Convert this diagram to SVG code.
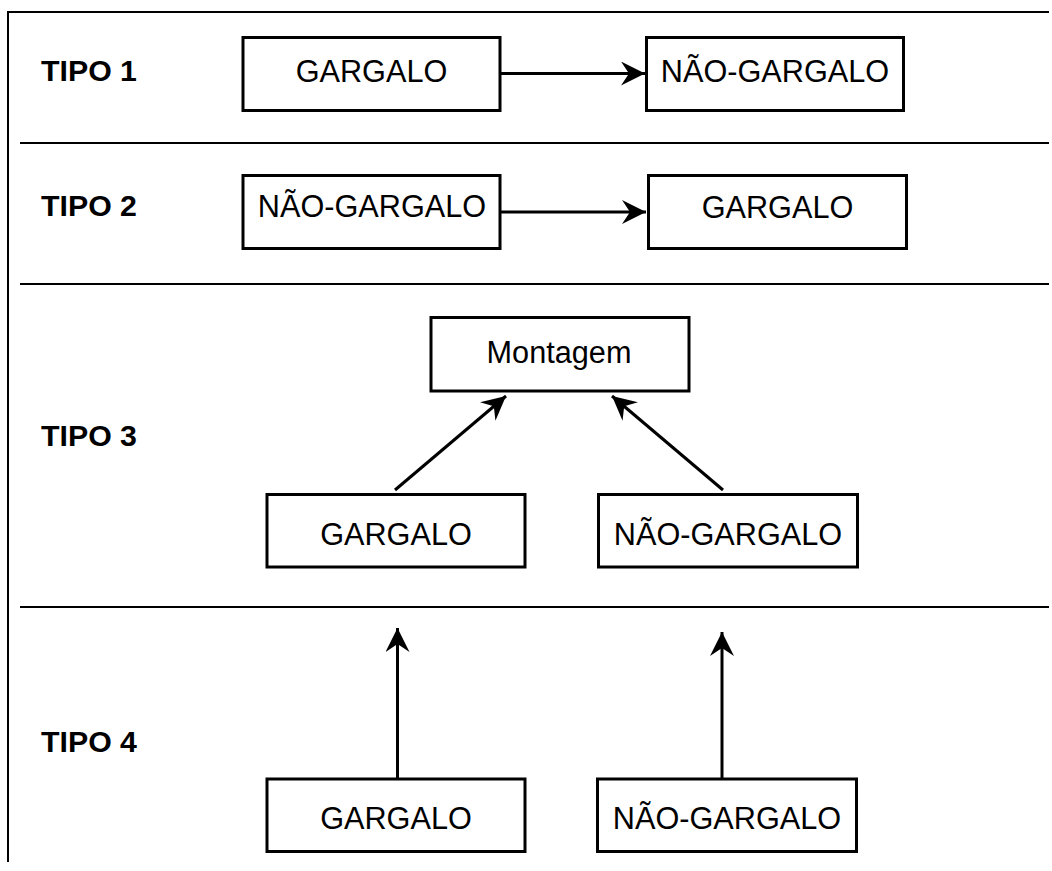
<svg xmlns="http://www.w3.org/2000/svg" width="1052" height="871" viewBox="0 0 1052 871">
<style>
.frame{stroke:#000;stroke-width:2;fill:none}
.box{fill:#fff;stroke:#000;stroke-width:3}
.lbl{font-family:"Liberation Sans",Arial,sans-serif;font-size:30.67px;fill:#000;text-anchor:middle}
.tipo{font-family:"Liberation Sans",Arial,sans-serif;font-size:30.3px;font-weight:bold;fill:#000}
.conn{stroke:#000;stroke-width:3;fill:none;marker-end:url(#arr)}
</style>
<defs>
<marker id="arr" viewBox="0 0 24 24" refX="24" refY="12" markerWidth="24" markerHeight="24" markerUnits="userSpaceOnUse" orient="auto">
<path d="M0,0 L24,12 L0,24 L8,12 Z" fill="#000"/>
</marker>
</defs>
<g id="frame">
<path class="frame" d="M8,862 V12 H1049"/>
<line class="frame" x1="20" y1="143" x2="1049" y2="143"/>
<line class="frame" x1="20" y1="284" x2="1049" y2="284"/>
<line class="frame" x1="20" y1="607" x2="1049" y2="607"/>
</g>
<g id="labels">
<text class="tipo" x="41" y="81">TIPO 1</text>
<text class="tipo" x="41" y="216">TIPO 2</text>
<text class="tipo" x="41" y="446">TIPO 3</text>
<text class="tipo" x="41" y="752">TIPO 4</text>
</g>
<g id="connectors">
<line class="conn" x1="501" y1="73.5" x2="645" y2="73.5"/>
<line class="conn" x1="501" y1="212" x2="646" y2="212"/>
<line class="conn" x1="395" y1="490" x2="506" y2="396"/>
<line class="conn" x1="723" y1="490" x2="612" y2="396"/>
<line class="conn" x1="397.5" y1="778" x2="397.5" y2="628"/>
<line class="conn" x1="722" y1="778" x2="722" y2="632"/>
</g>
<g id="t1-gargalo"><rect class="box" x="243" y="37.5" width="257" height="73"/><text class="lbl" x="371.5" y="82">GARGALO</text></g>
<g id="t1-nao-gargalo"><rect class="box" x="646.5" y="37.5" width="257" height="73"/><text class="lbl" x="775" y="82">NÃO-GARGALO</text></g>
<g id="t2-nao-gargalo"><rect class="box" x="243" y="175.5" width="257" height="73"/><text class="lbl" x="372" y="217">NÃO-GARGALO</text></g>
<g id="t2-gargalo"><rect class="box" x="648.5" y="175.5" width="258" height="73"/><text class="lbl" x="777.5" y="218">GARGALO</text></g>
<g id="t3-montagem"><rect class="box" x="431" y="317.5" width="258" height="73.5"/><text class="lbl" x="559" y="363">Montagem</text></g>
<g id="t3-gargalo"><rect class="box" x="267" y="494.5" width="258" height="72.5"/><text class="lbl" x="396" y="545">GARGALO</text></g>
<g id="t3-nao-gargalo"><rect class="box" x="598.5" y="494.5" width="259" height="72.5"/><text class="lbl" x="728" y="545">NÃO-GARGALO</text></g>
<g id="t4-gargalo"><rect class="box" x="267" y="779" width="258" height="72.5"/><text class="lbl" x="396" y="829">GARGALO</text></g>
<g id="t4-nao-gargalo"><rect class="box" x="597.5" y="779" width="259" height="72.5"/><text class="lbl" x="727" y="829">NÃO-GARGALO</text></g>
</svg>
